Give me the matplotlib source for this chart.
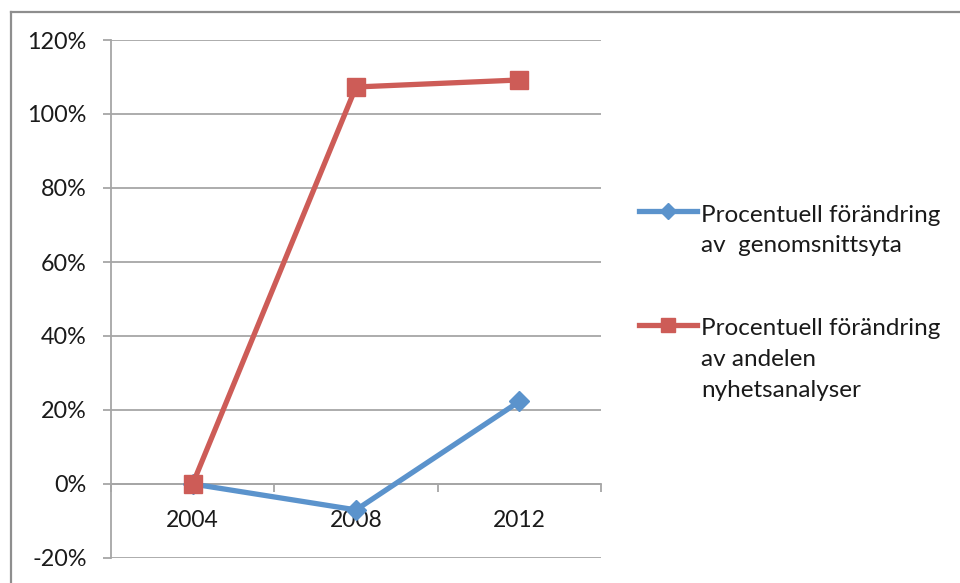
import numpy as np
import matplotlib
matplotlib.use('Agg')
import matplotlib.pyplot as plt
from matplotlib.lines import Line2D
from matplotlib.ticker import FixedLocator, FuncFormatter

# data
years = ['2004', '2008', '2012']
genomsnittsyta = [0.0, -7.0, 22.3]        # procent
andel_analyser = [0.0, 107.3, 109.2]      # procent
labels = ['Procentuell förändring\nav  genomsnittsyta',
          'Procentuell förändring\nav andelen\nnyhetsanalyser']
y_ticks = [-20, 0, 20, 40, 60, 80, 100, 120]

BLUE = '#5b93cc'
RED = '#cd5c57'
GRID = '#a6a6a6'
TXT = '#1a1a1a'

plt.rcParams['font.family'] = ['Lato', 'DejaVu Sans']

W, H = 960, 583
fig = plt.figure(figsize=(W / 100, H / 100), dpi=100)

def fx(px):
    return px / W

def fy(py):
    return 1 - py / H

# outer chart frame (only top and left edges visible)
fig.add_artist(Line2D([fx(11), fx(11)], [fy(12), 0], color='#8e8e8e', lw=1.6))
fig.add_artist(Line2D([fx(11), 1], [fy(12), fy(12)], color='#8e8e8e', lw=1.6))

ax = fig.add_axes([fx(111), fy(558), fx(601) - fx(111), fy(40) - fy(558)])

x = np.arange(len(years))
ax.plot(x, genomsnittsyta, color=BLUE, lw=3.8, marker='D', ms=10.5,
        solid_joinstyle='miter', zorder=3)
ax.plot(x, andel_analyser, color=RED, lw=3.8, marker='s', ms=13,
        solid_joinstyle='miter', zorder=4)

ax.set_xlim(-0.5, len(years) - 0.5)
ax.set_ylim(-20, 120)

ax.yaxis.set_major_locator(FixedLocator(y_ticks))
ax.yaxis.set_major_formatter(FuncFormatter(lambda v, p: f'{v:.0f}%'))
ax.grid(axis='y', color=GRID, lw=1.3)
ax.set_axisbelow(True)

ax.set_xticks(x)
ax.set_xticklabels(years)
ax.set_xticks(np.arange(len(years) + 1) - 0.5, minor=True)

for s in ['top', 'right']:
    ax.spines[s].set_visible(False)
ax.spines['left'].set_color(GRID)
ax.spines['left'].set_linewidth(1.3)
ax.spines['bottom'].set_position(('data', 0))
ax.spines['bottom'].set_color(GRID)
ax.spines['bottom'].set_linewidth(1.3)

ax.tick_params(axis='y', length=6, width=1.3, color=GRID, pad=11.5,
               labelsize=16.8, labelcolor=TXT)
ax.tick_params(axis='x', which='major', length=0, pad=19,
               labelsize=16.5, labelcolor=TXT)
ax.tick_params(axis='x', which='minor', length=6, width=1.3, color=GRID,
               direction='out')

# legend drawn at the right of the plot
legend_rows = [
    (BLUE, 'D', 10.5, 211, [222, 252], labels[0]),
    (RED, 's', 13, 325, [335, 366, 397], labels[1]),
]
for color, mk, ms, ly, baselines, text in legend_rows:
    fig.add_artist(Line2D([fx(639), fx(668), fx(697)], [fy(ly)] * 3,
                          color=color, lw=3.8, marker=mk, ms=ms * 0.75,
                          markevery=[1]))
    for line, by in zip(text.split('\n'), baselines):
        fig.text(fx(701), fy(by), line, fontsize=17.5, color=TXT,
                 va='baseline', ha='left')

fig.savefig('out.png', dpi=100)
